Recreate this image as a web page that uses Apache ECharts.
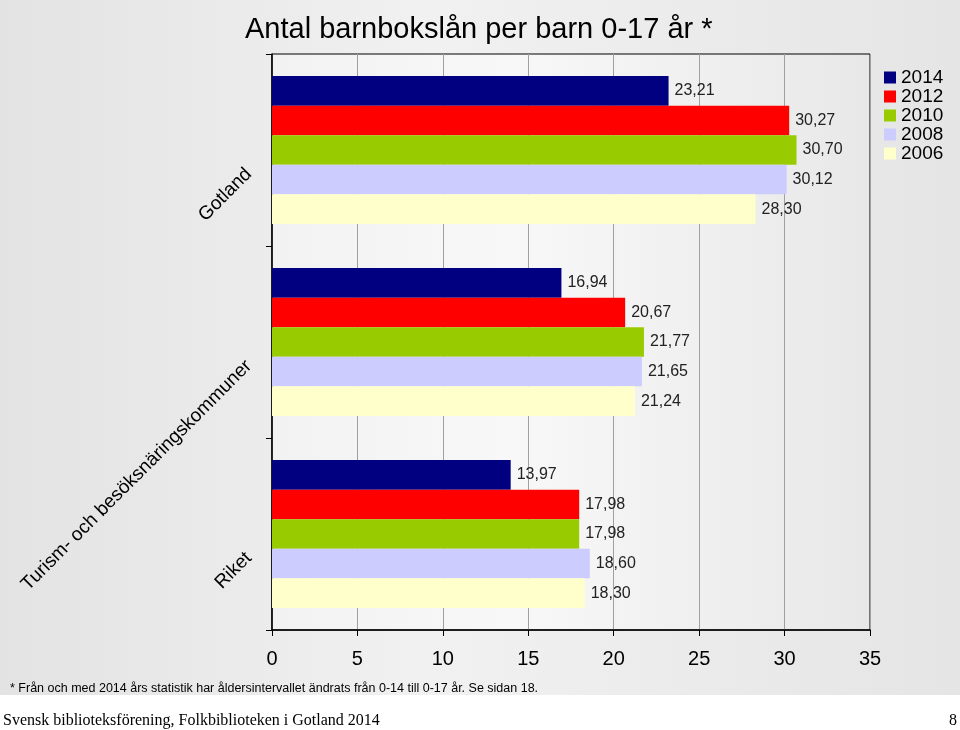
<!DOCTYPE html>
<html>
<head>
<meta charset="utf-8">
<script src="https://cdn.jsdelivr.net/npm/echarts@6/dist/echarts.min.js"></script>
<style>
html,body{margin:0;padding:0;background:#fff;}
#c{width:960px;height:730px;}
</style>
</head>
<body>
<div id="c"></div>
<script>
const categories = ['Gotland', 'Turism- och besöksnäringskommuner', 'Riket'];
const seriesNames = ['2014', '2012', '2010', '2008', '2006'];
const values2014 = [23.21, 16.94, 13.97];
const values2012 = [30.27, 20.67, 17.98];
const values2010 = [30.70, 21.77, 17.98];
const values2008 = [30.12, 21.65, 18.60];
const values2006 = [28.30, 21.24, 18.30];
const seriesColors = ['#000080', '#ff0000', '#99cc00', '#ccccff', '#ffffcc'];
const xTicks = { min: 0, max: 35, interval: 5 };

const allValues = [values2014, values2012, values2010, values2008, values2006];

const chart = echarts.init(document.getElementById('c'));
const fmt = v => v.toFixed(2).replace('.', ',');

chart.setOption({
  animation: false,
  backgroundColor: '#ffffff',
  graphic: [{
    type: 'rect', z: -10, silent: true,
    shape: { x: 0, y: 0, width: 960, height: 695 },
    style: {
      fill: new echarts.graphic.LinearGradient(0, 0, 1, 0, [
        { offset: 0, color: '#e3e3e3' },
        { offset: 0.45, color: '#f1f1f1' },
        { offset: 1, color: '#e5e5e5' }
      ])
    }
  }],
  title: [
    { text: 'Antal barnbokslån per barn 0-17 år *', left: 240, top: 10,
      textStyle: { fontFamily: 'Liberation Sans, Arial', fontSize: 29, fontWeight: 'normal', color: '#000' } },
    { text: '* Från och med 2014 års statistik har åldersintervallet ändrats från 0-14 till 0-17 år. Se sidan 18.', left: 5, top: 677,
      textStyle: { fontFamily: 'Liberation Sans, Arial', fontSize: 12.5, fontWeight: 'normal', color: '#000' } },
    { text: 'Svensk biblioteksförening, Folkbiblioteken i Gotland 2014', left: -2, top: 708,
      textStyle: { fontFamily: 'Liberation Serif, serif', fontSize: 16, fontWeight: 'normal', color: '#000' } },
    { text: '8', left: 944, top: 708,
      textStyle: { fontFamily: 'Liberation Serif, serif', fontSize: 16, fontWeight: 'normal', color: '#000' } }
  ],
  legend: {
    orient: 'vertical', left: 879, top: 63,
    itemWidth: 12, itemHeight: 12, itemGap: 0,
    icon: 'rect',
    textStyle: { fontFamily: 'Liberation Sans, Arial', fontSize: 19, lineHeight: 19, color: '#000' },
    data: seriesNames
  },
  grid: {
    left: 272, right: 90, top: 54, bottom: 100,
    show: true, borderColor: '#000', borderWidth: 1,
    backgroundColor: new echarts.graphic.LinearGradient(0, 0, 1, 0, [
      { offset: 0, color: '#f2f2f2' },
      { offset: 0.4, color: '#f8f8f8' },
      { offset: 1, color: '#e8e8e8' }
    ])
  },
  xAxis: {
    type: 'value', min: xTicks.min, max: xTicks.max, interval: xTicks.interval,
    axisLine: { show: true, lineStyle: { color: '#000', width: 1.5 } },
    axisTick: { show: true, length: 6, lineStyle: { color: '#000' } },
    axisLabel: { margin: 19, fontFamily: 'Liberation Sans, Arial', fontSize: 20, color: '#000' },
    splitLine: { show: true, lineStyle: { color: '#a0a0a0', width: 1 } }
  },
  yAxis: {
    type: 'category', data: categories, inverse: true,
    axisLine: { show: true, lineStyle: { color: '#000', width: 1.5 } },
    axisTick: { show: true, length: 6, lineStyle: { color: '#000' } },
    axisLabel: {
      interval: 0, rotate: 45, margin: 2, padding: [6, 30, 0, 0],
      fontFamily: 'Liberation Sans, Arial', fontSize: 19, color: '#000'
    }
  },
  series: seriesNames.map((name, i) => ({
    type: 'bar', name: name, data: allValues[i],
    barGap: '0%', barCategoryGap: '23%',
    itemStyle: { color: seriesColors[i] },
    label: {
      show: true, position: 'right', distance: 6,
      fontFamily: 'Liberation Sans, Arial', fontSize: 16, color: '#222',
      formatter: p => fmt(p.value)
    }
  }))
});
</script>
</body>
</html>
